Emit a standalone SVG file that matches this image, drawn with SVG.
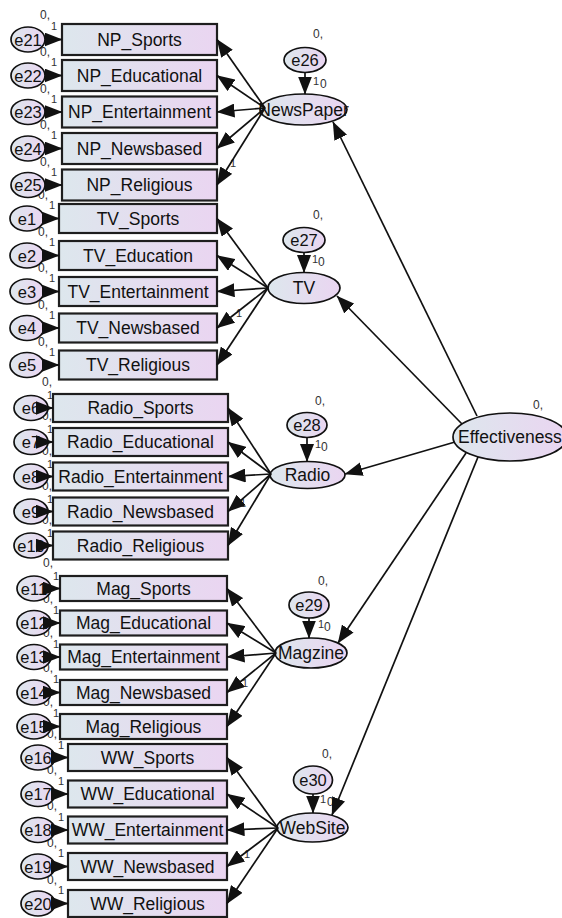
<svg xmlns="http://www.w3.org/2000/svg" width="562" height="918" viewBox="0 0 562 918">
<defs>
<linearGradient id="g" x1="0" y1="0" x2="1" y2="0">
<stop offset="0" stop-color="#dde7ed"/>
<stop offset="1" stop-color="#ead5f1"/>
</linearGradient>
<marker id="ah" markerUnits="userSpaceOnUse" markerWidth="18" markerHeight="14" viewBox="0 0 18 14" refX="17.5" refY="7" orient="auto">
<path d="M0,0 L18,7 L0,14 z" fill="#111"/>
</marker>
<style>
.box{fill:url(#g);stroke:#1e1e1e;stroke-width:2.2}
.ell{fill:url(#g);stroke:#111;stroke-width:1.7}
.t{font-family:"Liberation Sans",Arial,sans-serif;font-size:17.5px;fill:#111;text-anchor:middle}
.te{font-size:16.5px}
.lab{font-family:"Liberation Sans",Arial,sans-serif;font-size:12px;fill:#333}
.one{font-size:11px}
.c{stroke:#111;stroke-width:1.7;fill:none;marker-end:url(#ah)}
</style>
</defs>
<rect width="562" height="918" fill="#fff"/>

<g id="labels" class="lab">
<text x="40" y="19">0,</text><text class="one" x="51" y="30">1</text>
<text x="40" y="56">0,</text><text class="one" x="51" y="66">1</text>
<text x="40" y="93">0,</text><text class="one" x="51" y="103">1</text>
<text x="40" y="129">0,</text><text class="one" x="51" y="139">1</text>
<text x="40" y="166">0,</text><text class="one" x="51" y="176">1</text>
<text x="38" y="199">0,</text><text class="one" x="49" y="209">1</text>
<text x="38" y="236">0,</text><text class="one" x="49" y="246">1</text>
<text x="38" y="272">0,</text><text class="one" x="49" y="282">1</text>
<text x="38" y="309">0,</text><text class="one" x="49" y="319">1</text>
<text x="38" y="346">0,</text><text class="one" x="49" y="356">1</text>
<text x="42" y="386">0,</text><text class="one" x="47" y="399">1</text>
<text x="42" y="420">0,</text><text class="one" x="47" y="433">1</text>
<text x="42" y="455">0,</text><text class="one" x="47" y="468">1</text>
<text x="42" y="490">0,</text><text class="one" x="47" y="503">1</text>
<text x="42" y="524">0,</text><text class="one" x="47" y="537">1</text>
<text x="43" y="567">0,</text><text class="one" x="53" y="580">1</text>
<text x="43" y="603">0,</text><text class="one" x="53" y="614">1</text>
<text x="43" y="637">0,</text><text class="one" x="53" y="648">1</text>
<text x="43" y="672">0,</text><text class="one" x="53" y="683">1</text>
<text x="43" y="706">0,</text><text class="one" x="53" y="717">1</text>
<text x="47" y="738">0,</text><text class="one" x="58" y="749">1</text>
<text x="47" y="774">0,</text><text class="one" x="58" y="785">1</text>
<text x="47" y="810">0,</text><text class="one" x="58" y="821">1</text>
<text x="47" y="847">0,</text><text class="one" x="58" y="857">1</text>
<text x="47" y="884">0,</text><text class="one" x="58" y="894">1</text>
<text x="313" y="38">0,</text><text class="one" x="313" y="85">1</text><text x="320" y="88">0</text>
<text x="313" y="219">0,</text><text class="one" x="312" y="263">1</text><text x="318" y="266">0</text>
<text x="315" y="405">0,</text><text class="one" x="315" y="448">1</text><text x="321" y="451">0</text>
<text x="318" y="585">0,</text><text class="one" x="318" y="628">1</text><text x="324" y="631">0</text>
<text x="322" y="758">0,</text><text class="one" x="320" y="803">1</text><text x="327" y="806">0</text>
<text x="533" y="409">0,</text>
<text class="one" x="230" y="167">1</text>
<text class="one" x="236" y="317">1</text>
<text class="one" x="240" y="507">1</text>
<text class="one" x="242" y="687">1</text>
<text class="one" x="244" y="858">1</text>
</g>

<g id="NP_Sports"><rect class="box" x="62" y="24" width="155" height="31"/><text class="t" x="139.5" y="45.5">NP_Sports</text></g>
<g id="NP_Educational"><rect class="box" x="62" y="60" width="155" height="31"/><text class="t" x="139.5" y="81.5">NP_Educational</text></g>
<g id="NP_Entertainment"><rect class="box" x="62" y="96.5" width="155" height="31"/><text class="t" x="139.5" y="118">NP_Entertainment</text></g>
<g id="NP_Newsbased"><rect class="box" x="62" y="133" width="155" height="31"/><text class="t" x="139.5" y="154.5">NP_Newsbased</text></g>
<g id="NP_Religious"><rect class="box" x="62" y="169.5" width="155" height="31"/><text class="t" x="139.5" y="191">NP_Religious</text></g>

<g id="TV_Sports"><rect class="box" x="59" y="204" width="158" height="29"/><text class="t" x="138" y="224.5">TV_Sports</text></g>
<g id="TV_Education"><rect class="box" x="59" y="241" width="158" height="29"/><text class="t" x="138" y="261.5">TV_Education</text></g>
<g id="TV_Entertainment"><rect class="box" x="59" y="277" width="158" height="29"/><text class="t" x="138" y="297.5">TV_Entertainment</text></g>
<g id="TV_Newsbased"><rect class="box" x="59" y="313.5" width="158" height="29"/><text class="t" x="138" y="334">TV_Newsbased</text></g>
<g id="TV_Religious"><rect class="box" x="59" y="350.5" width="158" height="29"/><text class="t" x="138" y="371">TV_Religious</text></g>

<g id="Radio_Sports"><rect class="box" x="53" y="394" width="175" height="28"/><text class="t" x="140.5" y="414">Radio_Sports</text></g>
<g id="Radio_Educational"><rect class="box" x="53" y="428" width="175" height="28"/><text class="t" x="140.5" y="448">Radio_Educational</text></g>
<g id="Radio_Entertainment"><rect class="box" x="53" y="462.5" width="175" height="28"/><text class="t" x="140.5" y="482.5">Radio_Entertainment</text></g>
<g id="Radio_Newsbased"><rect class="box" x="53" y="497.5" width="175" height="28"/><text class="t" x="140.5" y="517.5">Radio_Newsbased</text></g>
<g id="Radio_Religious"><rect class="box" x="53" y="531.5" width="175" height="28"/><text class="t" x="140.5" y="551.5">Radio_Religious</text></g>

<g id="Mag_Sports"><rect class="box" x="60" y="576" width="167" height="25"/><text class="t" x="143.5" y="594.5">Mag_Sports</text></g>
<g id="Mag_Educational"><rect class="box" x="60" y="610.5" width="167" height="25"/><text class="t" x="143.5" y="629">Mag_Educational</text></g>
<g id="Mag_Entertainment"><rect class="box" x="60" y="644.5" width="167" height="25"/><text class="t" x="143.5" y="663">Mag_Entertainment</text></g>
<g id="Mag_Newsbased"><rect class="box" x="60" y="680" width="167" height="25"/><text class="t" x="143.5" y="698.5">Mag_Newsbased</text></g>
<g id="Mag_Religious"><rect class="box" x="60" y="714" width="167" height="25"/><text class="t" x="143.5" y="732.5">Mag_Religious</text></g>

<g id="WW_Sports"><rect class="box" x="68" y="744" width="159" height="27"/><text class="t" x="147.5" y="763.5">WW_Sports</text></g>
<g id="WW_Educational"><rect class="box" x="68" y="780.5" width="159" height="27"/><text class="t" x="147.5" y="800">WW_Educational</text></g>
<g id="WW_Entertainment"><rect class="box" x="68" y="816.5" width="159" height="27"/><text class="t" x="147.5" y="836">WW_Entertainment</text></g>
<g id="WW_Newsbased"><rect class="box" x="68" y="853" width="159" height="27"/><text class="t" x="147.5" y="872.5">WW_Newsbased</text></g>
<g id="WW_Religious"><rect class="box" x="68" y="890" width="159" height="27"/><text class="t" x="147.5" y="909.5">WW_Religious</text></g>

<g id="e21"><ellipse class="ell" cx="28" cy="39.5" rx="17" ry="12.5"/><text class="t te" x="28" y="45.5">e21</text></g>
<g id="e22"><ellipse class="ell" cx="28" cy="75.5" rx="17" ry="12.5"/><text class="t te" x="28" y="81.5">e22</text></g>
<g id="e23"><ellipse class="ell" cx="28" cy="112" rx="17" ry="12.5"/><text class="t te" x="28" y="118">e23</text></g>
<g id="e24"><ellipse class="ell" cx="28" cy="148.5" rx="17" ry="12.5"/><text class="t te" x="28" y="154.5">e24</text></g>
<g id="e25"><ellipse class="ell" cx="28" cy="185" rx="17" ry="12.5"/><text class="t te" x="28" y="191">e25</text></g>

<g id="e1"><ellipse class="ell" cx="27" cy="218.5" rx="17" ry="12.5"/><text class="t te" x="27" y="224.5">e1</text></g>
<g id="e2"><ellipse class="ell" cx="27" cy="255.5" rx="17" ry="12.5"/><text class="t te" x="27" y="261.5">e2</text></g>
<g id="e3"><ellipse class="ell" cx="27" cy="291.5" rx="17" ry="12.5"/><text class="t te" x="27" y="297.5">e3</text></g>
<g id="e4"><ellipse class="ell" cx="27" cy="328" rx="17" ry="12.5"/><text class="t te" x="27" y="334">e4</text></g>
<g id="e5"><ellipse class="ell" cx="27" cy="365" rx="17" ry="12.5"/><text class="t te" x="27" y="371">e5</text></g>

<g id="e6"><ellipse class="ell" cx="31" cy="408" rx="17" ry="12.5"/><text class="t te" x="31" y="414">e6</text></g>
<g id="e7"><ellipse class="ell" cx="31" cy="442" rx="17" ry="12.5"/><text class="t te" x="31" y="448">e7</text></g>
<g id="e8"><ellipse class="ell" cx="31" cy="476.5" rx="17" ry="12.5"/><text class="t te" x="31" y="482.5">e8</text></g>
<g id="e9"><ellipse class="ell" cx="31" cy="511.5" rx="17" ry="12.5"/><text class="t te" x="31" y="517.5">e9</text></g>
<g id="e10"><ellipse class="ell" cx="31" cy="545.5" rx="17" ry="12.5"/><text class="t te" x="31" y="551.5">e10</text></g>

<g id="e11"><ellipse class="ell" cx="34" cy="588.5" rx="17" ry="12.5"/><text class="t te" x="34" y="594.5">e11</text></g>
<g id="e12"><ellipse class="ell" cx="34" cy="623" rx="17" ry="12.5"/><text class="t te" x="34" y="629">e12</text></g>
<g id="e13"><ellipse class="ell" cx="34" cy="657" rx="17" ry="12.5"/><text class="t te" x="34" y="663">e13</text></g>
<g id="e14"><ellipse class="ell" cx="34" cy="692.5" rx="17" ry="12.5"/><text class="t te" x="34" y="698.5">e14</text></g>
<g id="e15"><ellipse class="ell" cx="34" cy="726.5" rx="17" ry="12.5"/><text class="t te" x="34" y="732.5">e15</text></g>

<g id="e16"><ellipse class="ell" cx="38" cy="757.5" rx="17" ry="12.5"/><text class="t te" x="38" y="763.5">e16</text></g>
<g id="e17"><ellipse class="ell" cx="38" cy="794" rx="17" ry="12.5"/><text class="t te" x="38" y="800">e17</text></g>
<g id="e18"><ellipse class="ell" cx="38" cy="830" rx="17" ry="12.5"/><text class="t te" x="38" y="836">e18</text></g>
<g id="e19"><ellipse class="ell" cx="38" cy="866.5" rx="17" ry="12.5"/><text class="t te" x="38" y="872.5">e19</text></g>
<g id="e20"><ellipse class="ell" cx="38" cy="903.5" rx="17" ry="12.5"/><text class="t te" x="38" y="909.5">e20</text></g>

<g id="e26"><ellipse class="ell" cx="305" cy="60" rx="21" ry="12.5"/><text class="t te" x="305" y="66">e26</text></g>
<g id="e27"><ellipse class="ell" cx="304" cy="240" rx="21" ry="12.5"/><text class="t te" x="304" y="246">e27</text></g>
<g id="e28"><ellipse class="ell" cx="307" cy="425" rx="20" ry="12.5"/><text class="t te" x="307" y="431">e28</text></g>
<g id="e29"><ellipse class="ell" cx="309" cy="605" rx="20" ry="13"/><text class="t te" x="309" y="611">e29</text></g>
<g id="e30"><ellipse class="ell" cx="313" cy="780" rx="19.5" ry="14"/><text class="t te" x="313" y="786">e30</text></g>

<g id="NewsPaper"><ellipse class="ell" cx="303.5" cy="109.5" rx="43.5" ry="15.5"/><text class="t" x="303.5" y="115.5">NewsPaper</text></g>
<g id="TV"><ellipse class="ell" cx="304" cy="288" rx="36" ry="15.5"/><text class="t" x="304" y="294">TV</text></g>
<g id="Radio"><ellipse class="ell" cx="307.5" cy="475" rx="37.5" ry="13.5"/><text class="t" x="307.5" y="481">Radio</text></g>
<g id="Magzine"><ellipse class="ell" cx="311" cy="653" rx="36" ry="15"/><text class="t" x="311" y="659">Magzine</text></g>
<g id="WebSite"><ellipse class="ell" cx="312.5" cy="827.5" rx="35.5" ry="14.5"/><text class="t" x="312.5" y="833.5">WebSite</text></g>
<g id="Effectiveness"><ellipse class="ell" cx="510" cy="437" rx="57" ry="24"/><text class="t" x="510" y="443">Effectiveness</text></g>

<g id="connectors">
<line class="c" x1="45" y1="39.5" x2="62" y2="39.5"/>
<line class="c" x1="45" y1="75.5" x2="62" y2="75.5"/>
<line class="c" x1="45" y1="112" x2="62" y2="112"/>
<line class="c" x1="45" y1="148.5" x2="62" y2="148.5"/>
<line class="c" x1="45" y1="185" x2="62" y2="185"/>
<line class="c" x1="44" y1="218.5" x2="59" y2="218.5"/>
<line class="c" x1="44" y1="255.5" x2="59" y2="255.5"/>
<line class="c" x1="44" y1="291.5" x2="59" y2="291.5"/>
<line class="c" x1="44" y1="328" x2="59" y2="328"/>
<line class="c" x1="44" y1="365" x2="59" y2="365"/>
<line class="c" x1="46" y1="408" x2="53" y2="408"/>
<line class="c" x1="46" y1="442" x2="53" y2="442"/>
<line class="c" x1="46" y1="476.5" x2="53" y2="476.5"/>
<line class="c" x1="46" y1="511.5" x2="53" y2="511.5"/>
<line class="c" x1="46" y1="545.5" x2="53" y2="545.5"/>
<line class="c" x1="50" y1="588.5" x2="60" y2="588.5"/>
<line class="c" x1="50" y1="623" x2="60" y2="623"/>
<line class="c" x1="50" y1="657" x2="60" y2="657"/>
<line class="c" x1="50" y1="692.5" x2="60" y2="692.5"/>
<line class="c" x1="50" y1="726.5" x2="60" y2="726.5"/>
<line class="c" x1="54" y1="757.5" x2="68" y2="757.5"/>
<line class="c" x1="54" y1="794" x2="68" y2="794"/>
<line class="c" x1="54" y1="830" x2="68" y2="830"/>
<line class="c" x1="54" y1="866.5" x2="68" y2="866.5"/>
<line class="c" x1="54" y1="903.5" x2="68" y2="903.5"/>
<line class="c" x1="305" y1="72.5" x2="305" y2="94"/>
<line class="c" x1="304" y1="252.5" x2="304" y2="272.5"/>
<line class="c" x1="307" y1="437.5" x2="307" y2="461.5"/>
<line class="c" x1="309" y1="618" x2="309" y2="638"/>
<line class="c" x1="313" y1="794" x2="313" y2="813"/>
<line class="c" x1="265" y1="108" x2="217" y2="39.5"/>
<line class="c" x1="265" y1="108" x2="217" y2="75.5"/>
<line class="c" x1="265" y1="108" x2="217" y2="112"/>
<line class="c" x1="265" y1="108" x2="217" y2="148.5"/>
<line class="c" x1="265" y1="108" x2="217" y2="185"/>
<line class="c" x1="268" y1="288" x2="217" y2="218.5"/>
<line class="c" x1="268" y1="288" x2="217" y2="255.5"/>
<line class="c" x1="268" y1="288" x2="217" y2="291.5"/>
<line class="c" x1="268" y1="288" x2="217" y2="328"/>
<line class="c" x1="268" y1="288" x2="217" y2="365"/>
<line class="c" x1="271" y1="474" x2="228" y2="408"/>
<line class="c" x1="271" y1="474" x2="228" y2="442"/>
<line class="c" x1="271" y1="474" x2="228" y2="476.5"/>
<line class="c" x1="271" y1="474" x2="228" y2="511.5"/>
<line class="c" x1="271" y1="474" x2="228" y2="545.5"/>
<line class="c" x1="276" y1="653" x2="227" y2="588.5"/>
<line class="c" x1="276" y1="653" x2="227" y2="623"/>
<line class="c" x1="276" y1="653" x2="227" y2="657"/>
<line class="c" x1="276" y1="653" x2="227" y2="692.5"/>
<line class="c" x1="276" y1="653" x2="227" y2="726.5"/>
<line class="c" x1="278" y1="828" x2="227" y2="757.5"/>
<line class="c" x1="278" y1="828" x2="227" y2="794"/>
<line class="c" x1="278" y1="828" x2="227" y2="830"/>
<line class="c" x1="278" y1="828" x2="227" y2="866.5"/>
<line class="c" x1="278" y1="828" x2="227" y2="903.5"/>
<line class="c" x1="477" y1="416" x2="333" y2="122"/>
<line class="c" x1="462" y1="424" x2="337" y2="296"/>
<line class="c" x1="455" y1="442" x2="345" y2="474"/>
<line class="c" x1="466" y1="453" x2="338" y2="643"/>
<line class="c" x1="478" y1="457" x2="332" y2="815"/>
</g>
</svg>
